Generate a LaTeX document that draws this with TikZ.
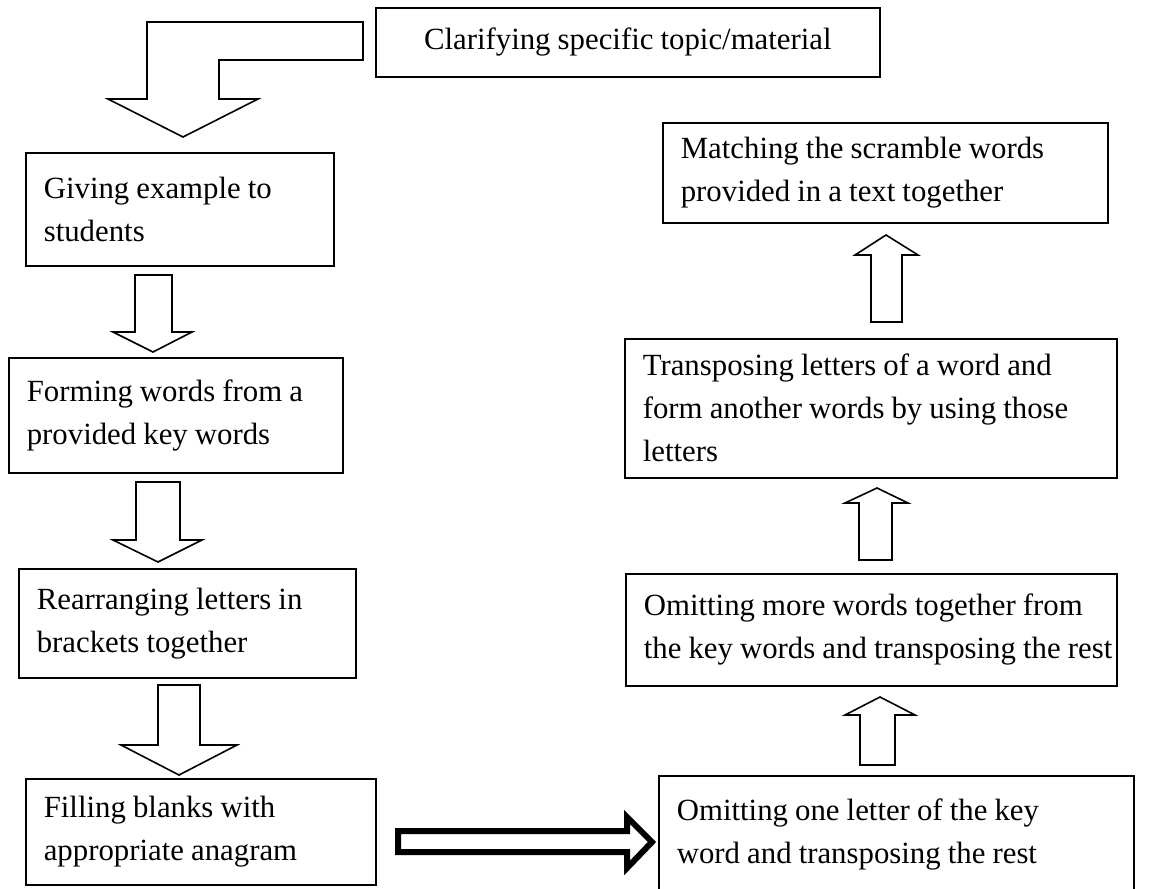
\documentclass[tikz,border=0pt]{standalone}
\usepackage{fontspec}
\setmainfont{Liberation Serif}
\newcommand{\stepline}[1]{\hspace*{9pt}\rlap{\spaceskip=0.23em #1}\par}

\tikzset{
	boxline/.style={draw, line width=0.8pt, anchor=north west, inner xsep=0pt, inner ysep=0pt},
	stepbox/.style={boxline},
	topbox/.style={boxline, align=center},
	blockarrow/.style={draw, line width=0.8pt, line join=miter},
	thickarrow/.style={draw, line width=3pt, line join=miter},
}

\begin{document}
\begin{tikzpicture}[x=0.5pt, y=-0.5pt, font=\fontsize{15.4}{21.5}\selectfont]
	\useasboundingbox (0,0) rectangle (1160,888);
	% Boxes, left column
	\node[topbox, text width=252pt, minimum height=34.5pt] (clarify) at (375,7) {\spaceskip=0.23em Clarifying specific topic/material};
	\node[stepbox, text width=154pt, minimum height=56.5pt] (give) at (25,152) {\stepline{Giving example to}\stepline{students}};
	\node[stepbox, text width=167pt, minimum height=57.5pt] (form) at (8,357) {\stepline{Forming words from a}\stepline{provided key words}};
	\node[stepbox, text width=168.5pt, minimum height=54.5pt] (rearr) at (18,568) {\stepline{Rearranging letters in}\stepline{brackets together}};
	\node[stepbox, text width=175pt, minimum height=53pt] (fill) at (25,778) {\stepline{Filling blanks with}\stepline{appropriate anagram}};
	% Boxes, right column
	\node[stepbox, text width=237.5pt, minimum height=58.5pt] (omitone) at (658,775) {\stepline{Omitting one letter of the key}\stepline{word and transposing the rest}};
	\node[stepbox, text width=245.5pt, minimum height=56pt] (omitmore) at (625,573) {\stepline{Omitting more words together from}\stepline{the key words and transposing the rest}};
	\node[stepbox, text width=246pt, minimum height=69.5pt] (transp) at (624,338) {\stepline{Transposing letters of a word and}\stepline{form another words by using those}\stepline{letters}};
	\node[stepbox, text width=222.5pt, minimum height=50pt] (match) at (662,122) {\stepline{Matching the scramble words}\stepline{provided in a text together}};
	% Bent arrow from the top box
	\draw[blockarrow] (363,22) -- (147,22) -- (147,99) -- (108,99) -- (183,137) -- (258,99) -- (219,99) -- (219,60) -- (363,60) -- cycle;
	% Down arrows
	\draw[blockarrow] (135,275) -- (172,275) -- (172,332) -- (192,332) -- (153,352) -- (113,332) -- (135,332) -- cycle;
	\draw[blockarrow] (136,482) -- (180,482) -- (180,540) -- (202,540) -- (158,562) -- (113,540) -- (136,540) -- cycle;
	\draw[blockarrow] (158,685) -- (200,685) -- (200,745) -- (237,745) -- (179,775) -- (121,745) -- (158,745) -- cycle;
	% Across
	\draw[thickarrow] (398,831) -- (627,831) -- (627,817) -- (652,842) -- (627,868) -- (627,852) -- (398,852) -- cycle;
	% Up arrows
	\draw[blockarrow] (860,765) -- (895,765) -- (895,715) -- (915,715) -- (880,697) -- (845,715) -- (860,715) -- cycle;
	\draw[blockarrow] (859,560) -- (892,560) -- (892,503) -- (908,503) -- (877,488) -- (845,503) -- (859,503) -- cycle;
	\draw[blockarrow] (871,322) -- (902,322) -- (902,255) -- (918,255) -- (886,235) -- (855,255) -- (871,255) -- cycle;
\end{tikzpicture}
\end{document}
